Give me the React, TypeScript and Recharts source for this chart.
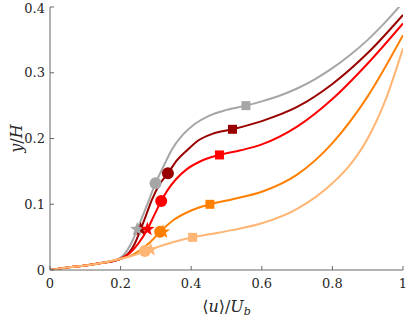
import React from "react";
import { ComposedChart, Line, Scatter, XAxis, YAxis } from "recharts";

// tick positions
const xTicks = [0, 0.2, 0.4, 0.6, 0.8, 1];
const yTicks = [0, 0.1, 0.2, 0.3, 0.4];

// velocity profiles, <u>/Ub (x) vs y/H (y)
const grayX = [0, 0.05, 0.1, 0.15, 0.19, 0.205, 0.22, 0.235, 0.247, 0.26, 0.275, 0.299, 0.32, 0.345, 0.375, 0.41, 0.45, 0.5, 0.555, 0.6, 0.65, 0.7, 0.75, 0.8, 0.85, 0.9, 0.95, 1];
const grayY = [0, 0.004, 0.007, 0.011, 0.016, 0.021, 0.031, 0.046, 0.062, 0.079, 0.099, 0.132, 0.156, 0.183, 0.205, 0.222, 0.2345, 0.2435, 0.25, 0.2565, 0.265, 0.276, 0.29, 0.307, 0.327, 0.35, 0.377, 0.407];

const darkRedX = [0, 0.05, 0.1, 0.15, 0.19, 0.21, 0.225, 0.24, 0.257, 0.272, 0.288, 0.31, 0.334, 0.36, 0.39, 0.42, 0.46, 0.517, 0.6, 0.7, 0.8, 0.9, 1];
const darkRedY = [0, 0.004, 0.007, 0.011, 0.015, 0.02, 0.027, 0.04, 0.062, 0.083, 0.106, 0.13, 0.147, 0.167, 0.183, 0.197, 0.207, 0.214, 0.2265, 0.248, 0.283, 0.33, 0.388];

const redX = [0, 0.05, 0.1, 0.15, 0.2, 0.225, 0.25, 0.276, 0.295, 0.315, 0.335, 0.357, 0.387, 0.425, 0.48, 0.54, 0.6, 0.7, 0.8, 0.9, 1];
const redY = [0, 0.004, 0.007, 0.011, 0.017, 0.025, 0.04, 0.062, 0.083, 0.105, 0.123, 0.138, 0.153, 0.165, 0.175, 0.182, 0.191, 0.218, 0.26, 0.314, 0.375];

const orangeX = [0, 0.05, 0.1, 0.15, 0.2, 0.23, 0.26, 0.285, 0.312, 0.35, 0.4, 0.453, 0.52, 0.6, 0.7, 0.8, 0.9, 1];
const orangeY = [0, 0.004, 0.007, 0.011, 0.017, 0.022, 0.032, 0.043, 0.058, 0.076, 0.0905, 0.0999, 0.108, 0.119, 0.145, 0.193, 0.264, 0.357];

const lightX = [0, 0.05, 0.1, 0.15, 0.2, 0.235, 0.269, 0.3, 0.35, 0.404, 0.46, 0.52, 0.6, 0.7, 0.8, 0.85, 0.9, 0.95, 1];
const lightY = [0, 0.004, 0.007, 0.011, 0.017, 0.022, 0.028, 0.034, 0.0425, 0.0497, 0.055, 0.061, 0.071, 0.093, 0.132, 0.16, 0.2, 0.258, 0.337];

// markers: [x, y] per profile (gray, dark red, red, orange, light orange)
const squareMarks = [[0.555, 0.25], [0.517, 0.214], [0.48, 0.175], [0.453, 0.0999], [0.404, 0.0497]];
const circleMarks = [[0.299, 0.132], [0.334, 0.147], [0.315, 0.105], [0.312, 0.058], [0.269, 0.029]];
const starMarks = [[0.247, 0.062], [0.257, 0.062], [0.276, 0.062], [0.32, 0.058], [0.285, 0.031]];

const colors = ["#a6a6a6", "#990000", "#ff0000", "#ff8000", "#ffb574"];

const curves = [
  { xs: grayX, ys: grayY },
  { xs: darkRedX, ys: darkRedY },
  { xs: redX, ys: redY },
  { xs: orangeX, ys: orangeY },
  { xs: lightX, ys: lightY },
];

const toPoints = (xs: number[], ys: number[]) => xs.map((x, i) => ({ x, y: ys[i] }));

const FONT = "DejaVu Serif";

function Square(props: any) {
  const { cx, cy, fill } = props;
  return <rect x={cx - 4.5} y={cy - 4.5} width={9} height={9} fill={fill} />;
}

function Dot(props: any) {
  const { cx, cy, fill } = props;
  return <circle cx={cx} cy={cy} r={6} fill={fill} />;
}

function Star(props: any) {
  const { cx, cy, fill } = props;
  const pts: string[] = [];
  for (let i = 0; i < 10; i++) {
    const r = i % 2 === 0 ? 7.5 : 3;
    const a = -Math.PI / 2 + (i * Math.PI) / 5;
    pts.push(`${cx + r * Math.cos(a)},${cy + r * Math.sin(a)}`);
  }
  return <polygon points={pts.join(" ")} fill={fill} />;
}

const tickStyle = { fill: "#262626", fontSize: 13, fontFamily: FONT };

export default function App() {
  return (
    <div style={{ width: 407, height: 318, background: "#fff" }}>
      <style>{"body{margin:0}"}</style>
      <ComposedChart
        width={407}
        height={318}
        margin={{ top: 7, right: 4, bottom: 0, left: 0 }}
        style={{ fontFamily: FONT }}
      >
        <XAxis
          dataKey="x"
          type="number"
          domain={[0, 1]}
          ticks={xTicks}
          allowDataOverflow
          height={48}
          stroke="#666"
          tickSize={-4}
          tickMargin={13}
          tick={tickStyle}
          tickFormatter={(v: number) => String(v)}
          label={{
            content: (p: any) => {
              const vb = p.viewBox;
              return (
                <text
                  x={vb.x + vb.width / 2}
                  y={vb.y + 42}
                  textAnchor="middle"
                  style={{ fontFamily: FONT }}
                  fontSize={16}
                  fill="#262626"
                >
                  ⟨<tspan fontStyle="italic">u</tspan>⟩/<tspan fontStyle="italic">U</tspan>
                  <tspan fontStyle="italic" fontSize={11} dy={3}>b</tspan>
                </text>
              );
            },
          }}
        />
        <XAxis
          xAxisId="top"
          orientation="top"
          type="number"
          domain={[0, 1]}
          ticks={xTicks}
          height={0}
          stroke="#666"
          tickSize={-4}
          tick={false}
        />
        <YAxis
          dataKey="y"
          type="number"
          domain={[0, 0.4]}
          ticks={yTicks}
          allowDataOverflow
          width={50}
          stroke="#666"
          tickSize={-4}
          tickMargin={9}
          tick={tickStyle}
          tickFormatter={(v: number) => String(v)}
          label={{
            content: (p: any) => {
              const vb = p.viewBox;
              const cx = 17;
              const cy = vb.y + vb.height / 2;
              return (
                <text
                  x={cx}
                  y={cy}
                  transform={`rotate(-90 ${cx} ${cy})`}
                  textAnchor="middle"
                  dominantBaseline="middle"
                  style={{ fontFamily: FONT }}
                  fontSize={16}
                  fill="#262626"
                >
                  <tspan fontStyle="italic">y</tspan>/<tspan fontStyle="italic">H</tspan>
                </text>
              );
            },
          }}
        />
        <YAxis
          yAxisId="right"
          orientation="right"
          type="number"
          domain={[0, 0.4]}
          ticks={yTicks}
          width={0}
          stroke="#666"
          tickSize={-4}
          tick={false}
        />
        {curves.map((c, i) => (
          <Line
            key={`line-${i}`}
            data={toPoints(c.xs, c.ys)}
            dataKey="y"
            type="monotone"
            stroke={colors[i]}
            strokeWidth={2}
            dot={false}
            activeDot={false}
            isAnimationActive={false}
          />
        ))}
        {[1, 0, 2, 3, 4].map((i) => (
          <Scatter
            key={`star-${i}`}
            data={[{ x: starMarks[i][0], y: starMarks[i][1] }]}
            dataKey="y"
            fill={colors[i]}
            shape={<Star />}
            isAnimationActive={false}
          />
        ))}
        {[0, 1, 2, 3, 4].map((i) => (
          <Scatter
            key={`circle-${i}`}
            data={[{ x: circleMarks[i][0], y: circleMarks[i][1] }]}
            dataKey="y"
            fill={colors[i]}
            shape={<Dot />}
            isAnimationActive={false}
          />
        ))}
        {[0, 1, 2, 3, 4].map((i) => (
          <Scatter
            key={`square-${i}`}
            data={[{ x: squareMarks[i][0], y: squareMarks[i][1] }]}
            dataKey="y"
            fill={colors[i]}
            shape={<Square />}
            isAnimationActive={false}
          />
        ))}
      </ComposedChart>
    </div>
  );
}
